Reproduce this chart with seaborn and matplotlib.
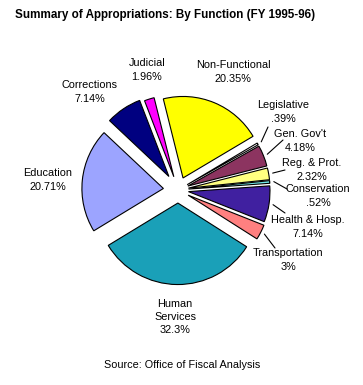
import matplotlib
matplotlib.use('Agg')
import matplotlib.pyplot as plt
import numpy as np
import seaborn as sns

# data
functions = ['Non-Functional', 'Legislative', "Gen. Gov't", 'Reg. & Prot.', 'Conservation',
             'Health & Hosp.', 'Transportation', 'Human\nServices', 'Education', 'Corrections', 'Judicial']
shares = [20.35, 0.39, 4.18, 2.32, 0.52, 7.14, 3.0, 32.3, 20.71, 7.14, 1.96]
share_labels = ['20.35%', '.39%', '4.18%', '2.32%', '.52%', '7.14%', '3%', '32.3%', '20.71%', '7.14%', '1.96%']
colors = ['#ffff00', '#ffffff', '#8c3460', '#ffff80', '#70e8e8', '#4020a0',
          '#ff8080', '#1aa0b8', '#9ca4ff', '#000080', '#ff00ff']
explode = [0.16, 0.13, 0.13, 0.13, 0.13, 0.13, 0.14, 0.16, 0.18, 0.2, 0.17]

# label centres in image pixels (x, y from top)
label_pos = [(233, 72), (283, 112), (300, 141), (312, 170), (318, 196), (308, 227),
             (288, 260), (175, 317), (48, 180), (90, 92), (147, 70)]
# small slices get a leader line: end of line in image pixels
leaders = {1: (268, 127), 2: (283, 140), 3: (285, 170), 4: (287, 189), 5: (285, 213), 6: (275, 248)}

sns.set_style('white')
plt.rcParams['font.family'] = ['Liberation Sans', 'DejaVu Sans']
plt.rcParams['text.color'] = 'black'

W, H = 363, 385
fig = plt.figure(figsize=(W / 100, H / 100), dpi=100)
fig.patch.set_facecolor('white')

unit = 81.5
cx, cy = 178, 190
half = 1.4 * unit
ax = fig.add_axes([(cx - half) / W, (H - cy - half) / H, 2 * half / W, 2 * half / H])

wedges, _ = ax.pie(shares, colors=colors, explode=explode, startangle=104, counterclock=False,
                   wedgeprops=dict(edgecolor='black', linewidth=0.8))
# pie() resets the limits, so set them afterwards
ax.set_xlim(-1.4, 1.4)
ax.set_ylim(-1.4, 1.4)
ax.set_aspect('equal')
ax.axis('off')

for i, w in enumerate(wedges):
    x, y = label_pos[i]
    fig.text(x / W, 1 - y / H, functions[i] + '\n' + share_labels[i], ha='center', va='center',
             fontsize=7.8, linespacing=1.4)
    if i in leaders:
        mid = np.deg2rad((w.theta1 + w.theta2) / 2)
        px = w.center[0] + (w.r + 0.05) * np.cos(mid)
        py = w.center[1] + (w.r + 0.05) * np.sin(mid)
        ex, ey = leaders[i]
        ax.annotate('', xy=(px, py), xytext=(ex, H - ey), textcoords='figure pixels',
                    arrowprops=dict(arrowstyle='-', lw=0.8, color='black', shrinkA=0, shrinkB=0))

fig.text(15 / W, 1 - 15 / H, 'Summary of Appropriations: By Function (FY 1995-96)',
         ha='left', va='center', fontsize=8.4, fontweight='bold')
fig.text(182 / W, 1 - 365 / H, 'Source: Office of Fiscal Analysis', ha='center', va='center', fontsize=7.8)

fig.savefig('out.png', dpi=100, facecolor='white')
